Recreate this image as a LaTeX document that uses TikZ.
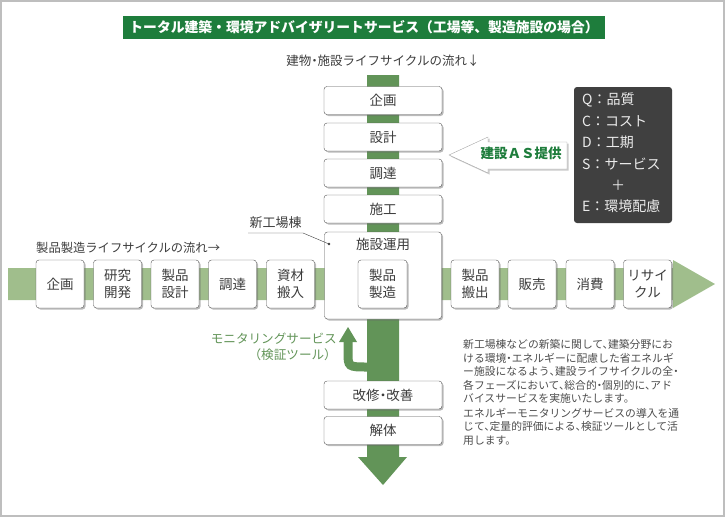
\documentclass[tikz,border=0pt]{standalone}
\usepackage{fontspec}
\setmainfont{Noto Sans CJK JP}
\usetikzlibrary{shadows}
\definecolor{titlegreen}{RGB}{30,125,60}
\definecolor{flowgreen}{RGB}{98,148,88}
\definecolor{palegreen}{RGB}{160,190,140}
\definecolor{boxline}{RGB}{85,85,85}
\definecolor{boxtext}{RGB}{60,60,60}
\definecolor{darkpanel}{RGB}{64,64,64}
\definecolor{framegray}{RGB}{190,190,190}
\tikzset{
  stagebox/.style={draw=boxline, fill=white, rounded corners=3pt, text=boxtext, align=center, inner sep=0pt,
    drop shadow={shadow xshift=1.5pt, shadow yshift=-1.5pt, opacity=0.45, fill=black!60},
    font=\fontsize{13.5}{17}\selectfont\addfontfeatures{RawFeature=+halt}},
  vbox/.style={stagebox, minimum width=118pt, minimum height=28pt},
  hbox/.style={stagebox, minimum width=48pt, minimum height=48pt},
  plain/.style={inner sep=0pt, text height=0.88em, text depth=0.12em, text=boxtext}
}
\begin{document}
\begin{tikzpicture}[x=1pt,y=-1pt]
    \useasboundingbox (0,0) rectangle (725,517);
    \draw[framegray, line width=2pt] (1,1) rectangle (723.5,515.5);
    \node[fill=titlegreen, text=white, minimum width=482pt, minimum height=23pt, inner sep=0pt,
          font=\bfseries\fontsize{13.8}{16}\selectfont] (title) at (364,27.5)
          {トータル建築・環境アドバイザリートサービス（工場等、製造施設の場合）};
    \node[plain, font=\fontsize{12.5}{15}\selectfont\addfontfeatures{RawFeature=+halt}] (vflow) at (383,62) {建物・施設ライフサイクルの流れ↓};
    \node[plain, anchor=west, font=\fontsize{12.3}{15}\selectfont] (hflow) at (36,249) {製品製造ライフサイクルの流れ→};
    \fill[flowgreen] (367,75) -- (399,75) -- (399,457) -- (407,457) -- (383,485) -- (358,457) -- (367,457) -- cycle;
    \fill[palegreen] (8,268) -- (673,268) -- (673,260) -- (715,284) -- (673,308) -- (673,300) -- (8,300) -- cycle;
    \node[vbox] (bplan) at (383,100.5) {企画};
    \node[vbox] (bdesign) at (383,137) {設計};
    \node[vbox] (bbuy) at (383,173) {調達};
    \node[vbox] (bbuild) at (383,209) {施工};
    \node[stagebox, minimum width=117pt, minimum height=87pt] (operate) at (383,275.5) {};
    \node[plain, font=\fontsize{13.5}{17}\selectfont] (operatelabel) at (383,246) {施設運用};
    \node[stagebox, minimum width=49pt, minimum height=48pt] (make) at (382.5,284) {製品\\製造};
    \foreach \x/\t/\n in {60/企画/p1, 117.5/{研究\\開発}/p2, 175/{製品\\設計}/p3, 232.5/調達/p4, 290.5/{資材\\搬入}/p5,
                          475/{製品\\搬出}/p6, 532/販売/p7, 590/消費/p8, 647.5/{リサイ\\クル}/p9}
        \node[hbox] (\n) at (\x,284) {\t};
    \node[vbox] (brepair) at (383,395) {改修・改善};
    \node[vbox] (bdemolish) at (383,430.5) {解体};
    \node[plain, font=\fontsize{13}{15}\selectfont] (newbldg) at (275.5,224) {新工場棟};
    \coordinate (pin) at (329,244);
    \draw[boxtext] (248,233) -- (303,233) -- (pin);
    \fill[boxtext] (pin) circle (1.4pt);
    \draw[flowgreen, line width=9pt] (368,367) .. controls (348,367) .. (348,352) -- (348,341);
    \fill[flowgreen] (339,342) -- (348,327) -- (357,342) -- cycle;
    \node[plain, anchor=east, text=flowgreen, font=\fontsize{12.6}{15}\selectfont] (monitor) at (337,340) {モニタリングサービス};
    \node[plain, anchor=east, text=flowgreen, font=\fontsize{12.6}{15}\selectfont] (monitor2) at (337,356) {（検証ツール）};
    \draw[black!35, fill=white, drop shadow={shadow xshift=1.5pt, shadow yshift=-1.5pt, opacity=0.35, fill=black!60}]
        (567,142) -- (488,142) -- (488,137) -- (449,155) -- (488,173) -- (488,169) -- (567,169) -- cycle;
    \node[plain, text=titlegreen, font=\bfseries\fontsize{13.5}{16}\selectfont] (offer) at (521,155) {建設ＡＳ提供};
    \fill[darkpanel, rounded corners=3pt] (574,87) rectangle (672,223);
    \foreach \y/\t in {101/Q：品質, 123/C：コスト, 144/D：工期, 166/S：サービス, 208/E：環境配慮}
        \node[plain, anchor=west, text=black!8, font=\fontsize{14}{16}\selectfont] at (582,\y) {\t};
    \node[plain, text=black!8, font=\fontsize{14}{16}\selectfont] (plus) at (618,187) {＋};
    \node[anchor=north west, align=left, inner sep=0pt, text=black!70,
          font=\fontsize{10.8}{13.4}\selectfont\addfontfeatures{RawFeature=+halt}] (note) at (463,339.5)
        {新工場棟などの新築に関して、建築分野にお\\
         ける環境・エネルギーに配慮した省エネルギ\\
         ー施設になるよう、建設ライフサイクルの全・\\
         各フェーズにおいて、総合的・個別的に、アド\\
         バイスサービスを実施いたします。\\[1.5pt]
         エネルギーモニタリングサービスの導入を通\\
         じて、定量的評価による、検証ツールとして活\\
         用します。};
\end{tikzpicture}
\end{document}
